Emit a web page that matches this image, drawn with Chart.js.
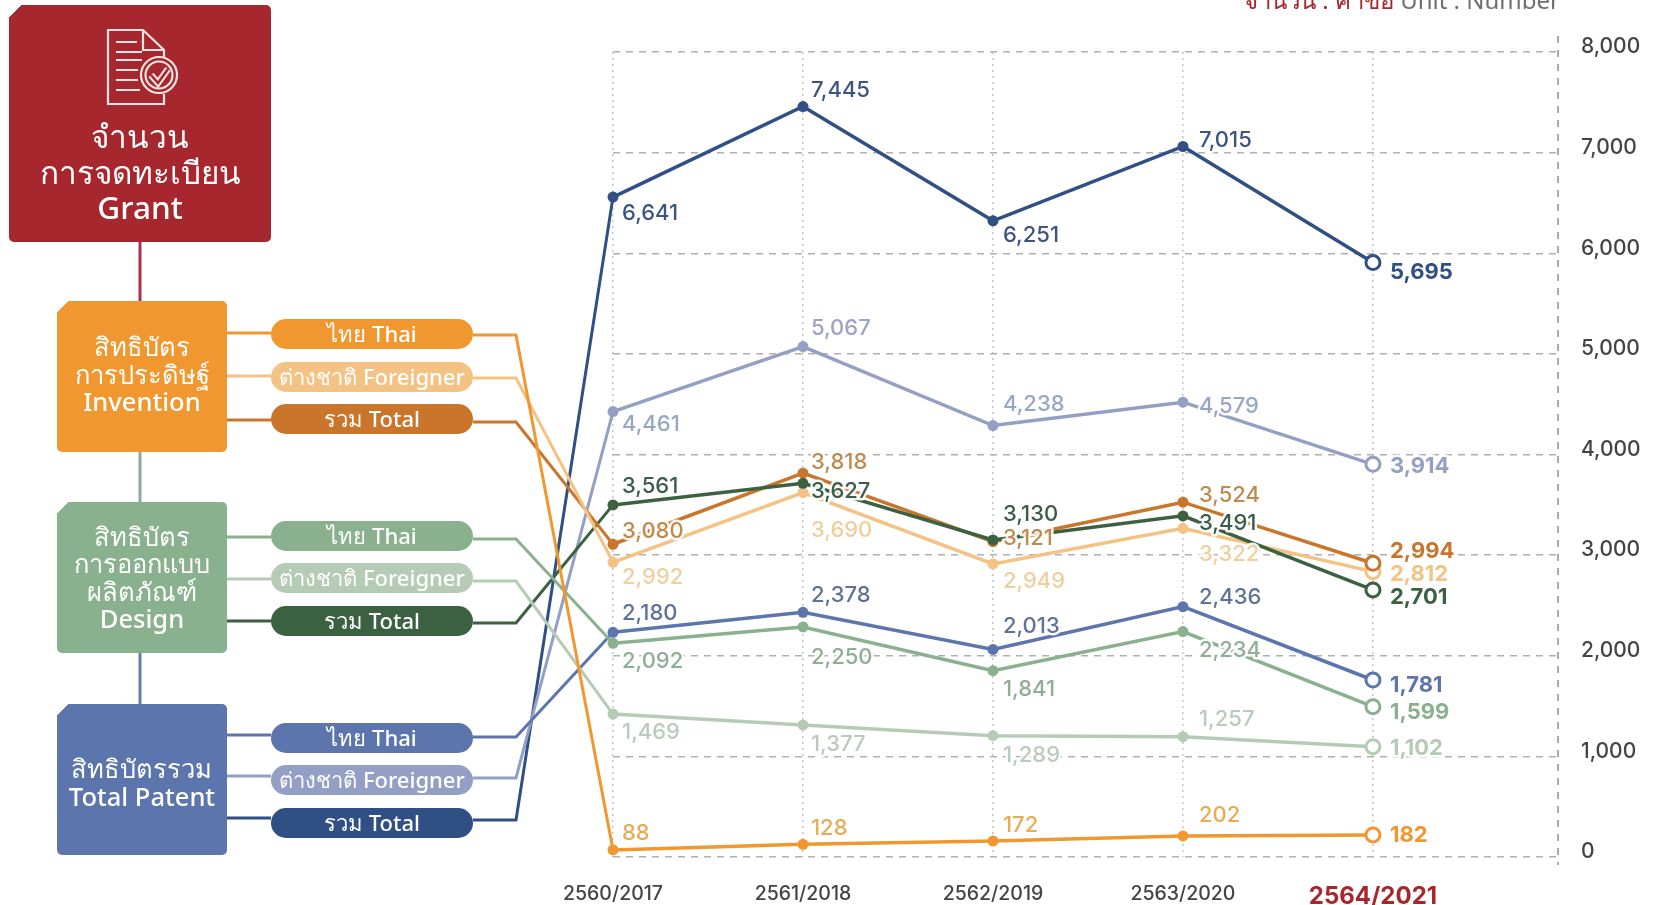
<!DOCTYPE html>
<html lang="th">
<head>
<meta charset="utf-8">
<title>จำนวนการจดทะเบียน Grant</title>
<script src="https://cdn.jsdelivr.net/npm/chart.js@4"></script>
<style>
  html, body { margin: 0; background: #fff; }
  body { position: relative; width: 1656px; height: 905px; overflow: hidden; font-family: "Noto Sans", "Open Sans", sans-serif; }
  canvas { position: absolute; left: 0; top: 0; }
  .box { position: absolute; color: #fff; font-weight: 500; text-align: center; display: flex; align-items: center; justify-content: center; border-radius: 5px; box-sizing: border-box; }
  .pill { position: absolute; left: 271px; width: 202px; height: 30px; border-radius: 15px; color: #fff; font-size: 22px; font-weight: 500; line-height: 29px; text-align: center; white-space: nowrap; }
  #unit { position: absolute; right: 96px; top: -14px; font-size: 24px; line-height: 28px; color: #6f6f6f; white-space: nowrap; }
  #unit b { font-weight: 400; color: #a6272d; }
  #grant { left: 9px; top: 5px; width: 262px; height: 237px; font-size: 31.5px; line-height: 35.5px; padding-top: 96px; background: linear-gradient(135deg, transparent 9px, #a6272d 9px); }
  #icon { position: absolute; left: 106px; top: 28px; }
  .side { left: 57px; width: 170px; height: 151px; font-size: 25.5px; line-height: 27.5px; }
</style>
</head>
<body>
<canvas id="chart" width="1656" height="905"></canvas>

<div id="unit"><b>จำนวน : คำขอ</b> Unit : Number</div>

<div class="box" id="grant"><div>จำนวน<br>การจดทะเบียน<br>Grant</div></div>
<svg id="icon" width="72" height="78" viewBox="0 0 72 78" fill="none" stroke="#f6e3e3" stroke-width="2.2">
  <path d="M40 76H2V2h35l21 20v12"/><path d="M37 2v20h21"/><path d="M58 66v10H40"/>
  <path d="M10 14h21M10 24h26M10 32h26M10 42h22M10 52h22M10 62h24"/>
  <circle cx="53" cy="47" r="18" fill="#a6272d"/><circle cx="53" cy="47" r="13.5"/>
  <path d="M45 47l7 8 10-14" stroke-width="6.5"/><path d="M45 47l7 8 10-14" stroke="#a6272d" stroke-width="2.5"/>
</svg>

<div class="box side" style="top:301px;padding-bottom:4px;background:linear-gradient(135deg,transparent 8px,#f0982f 8px)"><div>สิทธิบัตร<br>การประดิษฐ์<br>Invention</div></div>
<div class="box side" style="top:502px;background:linear-gradient(135deg,transparent 8px,#8ab18e 8px)"><div>สิทธิบัตร<br>การออกแบบ<br>ผลิตภัณฑ์<br>Design</div></div>
<div class="box side" style="top:704px;padding-top:6px;background:linear-gradient(135deg,transparent 8px,#5c75ac 8px)"><div>สิทธิบัตรรวม<br>Total Patent</div></div>

<div class="pill" style="top:319px;background:#f0982f">ไทย Thai</div>
<div class="pill" style="top:362px;background:#f4c283">ต่างชาติ Foreigner</div>
<div class="pill" style="top:404px;background:#c9762c">รวม Total</div>
<div class="pill" style="top:521px;background:#8ab18e">ไทย Thai</div>
<div class="pill" style="top:563px;background:#b5cbb6">ต่างชาติ Foreigner</div>
<div class="pill" style="top:606px;background:#3b6140">รวม Total</div>
<div class="pill" style="top:723px;background:#5c75ac">ไทย Thai</div>
<div class="pill" style="top:765px;background:#949fc6">ต่างชาติ Foreigner</div>
<div class="pill" style="top:808px;background:#2f4f85">รวม Total</div>

<script>
// ── Data ──
const years = ['2560/2017', '2561/2018', '2562/2019', '2563/2020', '2564/2021'];
const yTicks = [0, 1000, 2000, 3000, 4000, 5000, 6000, 7000, 8000];

// heights of the marks (the original marks do not
// sit exactly at their printed numbers, the printed ones are below)
const inventionThai    = [70, 126, 159, 209, 219];
const inventionForeign = [2929, 3621, 2912, 3266, 2836];
const inventionTotal   = [3108, 3814, 3134, 3526, 2919];
const designThai       = [2124, 2286, 1852, 2240, 1494];
const designForeign    = [1421, 1312, 1206, 1196, 1096];
const designTotal      = [3499, 3714, 3151, 3390, 2654];
const patentThai       = [2233, 2432, 2063, 2488, 1759];
const patentForeign    = [4427, 5073, 4288, 4520, 3902];
const patentTotal      = [6558, 7458, 6322, 7061, 5907];

// numbers printed next to the marks
const inventionThaiText    = ['88', '128', '172', '202', '182'];
const inventionForeignText = ['2,992', '3,690', '2,949', '3,322', '2,812'];
const inventionTotalText   = ['3,080', '3,818', '3,121', '3,524', '2,994'];
const designThaiText       = ['2,092', '2,250', '1,841', '2,234', '1,599'];
const designForeignText    = ['1,469', '1,377', '1,289', '1,257', '1,102'];
const designTotalText      = ['3,561', '3,627', '3,130', '3,491', '2,701'];
const patentThaiText       = ['2,180', '2,378', '2,013', '2,436', '1,781'];
const patentForeignText    = ['4,461', '5,067', '4,238', '4,579', '3,914'];
const patentTotalText      = ['6,641', '7,445', '6,251', '7,015', '5,695'];

// ── Styling per series ──
const FONT = 'Inter, "Open Sans", sans-serif';
const labelDx = [9, 8, 10, 16, 17];
const series = [
  { data: patentTotal,      text: patentTotalText,      color: '#2f4f85', ink: '#3c5580', dy: [16, -16, 15, -6, 10],    y: 820 },
  { data: patentForeign,    text: patentForeignText,    color: '#949fc6', ink: '#98a5c6', dy: [13, -18, -21, 4, 2],     y: 778 },
  { data: patentThai,       text: patentThaiText,       color: '#5c75ac', ink: '#5f7199', dy: [-19, -17, -23, -9, 5],   y: 737 },
  { data: designTotal,      text: designTotalText,      color: '#3b6140', ink: '#3b5c48', dy: [-19, 8, -26, 8, 7],      y: 623 },
  { data: designThai,       text: designThaiText,       color: '#8ab18e', ink: '#8fae94', dy: [18, 30, 19, 19, 6],      y: 539 },
  { data: designForeign,    text: designForeignText,    color: '#b5cbb6', ink: '#b9cbbb', dy: [18, 19, 20, -17, 2],     y: 581 },
  { data: inventionTotal,   text: inventionTotalText,   color: '#c9762c', ink: '#c08a4e', dy: [-13, -11, -3, -7, -12],  y: 422 },
  { data: inventionForeign, text: inventionForeignText, color: '#f4c283', ink: '#efcf9e', dy: [15, 38, 17, 26, 3],      y: 378 },
  { data: inventionThai,    text: inventionThaiText,    color: '#f0982f', ink: '#e9ab55', dy: [-17, -16, -16, -21, 0],  y: 335 },
];
const lastIndex = years.length - 1;

// ── Connectors: box to pill, pill to the first point of each series ──
const trunks = [
  { y1: 242, y2: 301, color: '#a6324a' },
  { y1: 452, y2: 502, color: '#8ea99a' },
  { y1: 653, y2: 704, color: '#667ba6' },
];
const connectors = {
  id: 'connectors',
  beforeDatasetsDraw(chart) {
    const ctx = chart.ctx;
    ctx.save();
    ctx.lineWidth = 3;
    ctx.lineJoin = 'miter';
    trunks.forEach(t => {
      ctx.strokeStyle = t.color;
      ctx.beginPath();
      ctx.moveTo(140, t.y1);
      ctx.lineTo(140, t.y2);
      ctx.stroke();
    });
    series.forEach((s, i) => {
      const first = chart.getDatasetMeta(i).data[0];
      ctx.strokeStyle = s.color;
      ctx.beginPath();
      ctx.moveTo(227, s.y - 2);
      ctx.lineTo(271, s.y - 2);
      ctx.moveTo(473, s.y);
      ctx.lineTo(516, s.y);
      ctx.lineTo(first.x, first.y);
      ctx.stroke();
    });
    // right hand border of the plot, taller than the grid
    ctx.strokeStyle = '#ababab';
    ctx.lineWidth = 2;
    ctx.setLineDash([7, 7]);
    ctx.beginPath();
    ctx.moveTo(chart.chartArea.right, chart.chartArea.top - 16);
    ctx.lineTo(chart.chartArea.right, chart.chartArea.bottom + 8);
    ctx.stroke();
    ctx.restore();
  },
};

// ── Value labels ──
const valueLabels = {
  id: 'valueLabels',
  afterDatasetsDraw(chart) {
    const ctx = chart.ctx;
    ctx.save();
    ctx.textAlign = 'left';
    ctx.textBaseline = 'middle';
    ctx.lineJoin = 'round';
    series.forEach((s, i) => {
      chart.getDatasetMeta(i).data.forEach((pt, j) => {
        const x = pt.x + labelDx[j];
        const y = pt.y + s.dy[j];
        ctx.font = (j === lastIndex ? '700 ' : '500 ') + '22px ' + FONT;
        ctx.strokeStyle = 'rgba(255,255,255,0.9)';
        ctx.lineWidth = 5;
        ctx.strokeText(s.text[j], x, y);
        ctx.fillStyle = j === lastIndex ? s.color : s.ink;
        ctx.fillText(s.text[j], x, y);
      });
    });
    ctx.restore();
  },
};

// ── Chart ──
new Chart(document.getElementById('chart'), {
  type: 'line',
  data: {
    datasets: series.map(s => ({
      data: s.data.map((v, i) => ({ x: i, y: v })),
      borderColor: s.color,
      borderWidth: 3.5,
      tension: 0,
      clip: false,
      backgroundColor: s.color,
      pointRadius: ctx => ctx.dataIndex === lastIndex ? 7 : 5.5,
      pointBorderWidth: ctx => ctx.dataIndex === lastIndex ? 3 : 0,
      pointBorderColor: s.color,
      pointBackgroundColor: ctx => ctx.dataIndex === lastIndex ? '#fff' : s.color,
    })),
  },
  options: {
    responsive: false,
    animation: false,
    layout: { padding: { left: 613, top: 52, right: 0, bottom: 0 } },
    plugins: { legend: { display: false }, tooltip: { enabled: false } },
    scales: {
      x: {
        type: 'linear',
        min: 0,
        max: 4.974,
        afterBuildTicks: scale => { scale.ticks = years.map((_, i) => ({ value: i })); },
        afterFit: scale => { scale.height = 48; },
        grid: { color: '#c4c4c4', lineWidth: 1.5, drawTicks: false },
        border: { display: false, dash: [2, 4] },
        ticks: {
          padding: 25,
          autoSkip: false,
          maxRotation: 0,
          callback: v => years[v],
          color: ctx => ctx.index === lastIndex ? '#a6272d' : '#444',
          font: ctx => ctx.index === lastIndex
            ? { family: FONT, size: 24, weight: '700' }
            : { family: FONT, size: 19.5, weight: '500' },
        },
      },
      y: {
        position: 'right',
        min: 0,
        max: 8000,
        afterBuildTicks: scale => { scale.ticks = yTicks.map(v => ({ value: v })); },
        afterFit: scale => { scale.width = 98; },
        grid: { color: '#b0b0b0', lineWidth: 1.5, drawTicks: false },
        border: { display: false, dash: [7, 6] },
        ticks: {
          padding: 23,
          labelOffset: -5,
          color: '#444',
          font: { family: FONT, size: 21, weight: '500' },
          callback: v => v.toLocaleString('en-US'),
        },
      },
    },
  },
  plugins: [connectors, valueLabels],
});
</script>
</body>
</html>
